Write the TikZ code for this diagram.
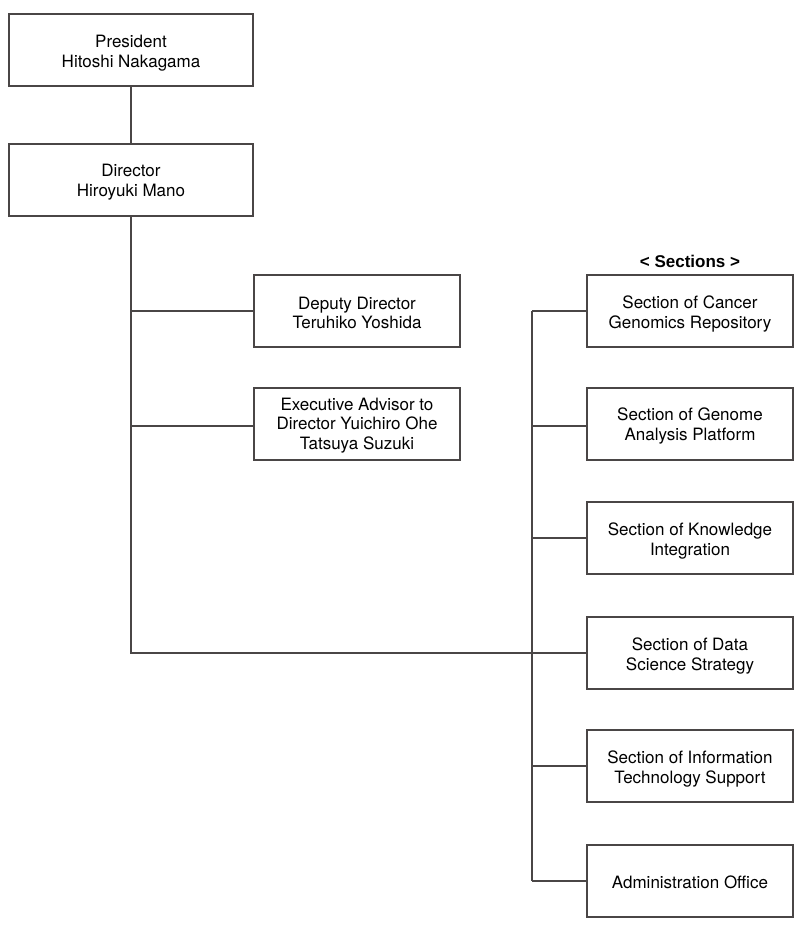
\documentclass[tikz,border=0pt]{standalone}
\usepackage{fontspec}
\setmainfont{TeX Gyre Heros}
\newfontfamily\arialfont{Liberation Sans}
\definecolor{linec}{HTML}{4A4646}
\begin{document}
\begin{tikzpicture}[x=1pt,y=-1pt,
  box/.style={draw=linec,line width=1.1pt,fill=white,inner sep=0pt,minimum height=72pt},
  widebox/.style={box,minimum width=244pt},
  unitbox/.style={box,minimum width=206pt},
  txt/.style={align=center,inner sep=0pt,font=\fontsize{17}{19.6}\selectfont},
  conn/.style={draw=linec,line width=1.1pt}]
\useasboundingbox (0,0) rectangle (800,930);
\fill[white] (0,0) rectangle (800,930);
\node[widebox] (pres) at (131,50) {};
\node[widebox] (dir) at (131,180) {};
\node[unitbox] (dep) at (357,311) {};
\node[unitbox] (exec) at (357,424) {};
\node[unitbox] (s1) at (690,311) {};
\node[unitbox] (s2) at (690,424) {};
\node[unitbox] (s3) at (690,538) {};
\node[unitbox] (s4) at (690,653) {};
\node[unitbox] (s5) at (690,766) {};
\node[unitbox] (s6) at (690,881) {};
\node[txt] (pres-t) at ([yshift=-3pt]pres.center) {President\\Hitoshi Nakagama};
\node[txt] (dir-t) at ([yshift=-2pt]dir.center) {Director\\Hiroyuki Mano};
\node[txt] (dep-t) at ([yshift=-2pt]dep.center) {Deputy Director\\Teruhiko Yoshida};
\node[txt] (exec-t) at ([yshift=-1.5pt]exec.center) {Executive Advisor to\\Director Yuichiro Ohe\\Tatsuya Suzuki};
\node[txt,font=\arialfont\bfseries\fontsize{17}{19.6}\selectfont] (sect) at (690,261) {< Sections >};
\node[txt] (s1-t) at ([yshift=-3pt]s1.center) {Section of Cancer\\Genomics Repository};
\node[txt] (s2-t) at ([yshift=-2pt]s2.center) {Section of Genome\\Analysis Platform};
\node[txt] (s3-t) at ([yshift=-3pt]s3.center) {Section of Knowledge\\Integration};
\node[txt] (s4-t) at ([yshift=-3pt]s4.center) {Section of Data\\Science Strategy};
\node[txt] (s5-t) at ([yshift=-3pt]s5.center) {Section of Information\\Technology Support};
\node[txt] (s6-t) at ([yshift=-1pt]s6.center) {Administration Office};
\coordinate (mainend) at (131,653);
\coordinate (vtop) at (532,311);
\coordinate (vbot) at (532,881);
\path[conn] (pres.south) -- (dir.north);
\path[conn] (dir.south) -- (mainend) -- (s4.west);
\path[conn] (dep.west) -- (dep.west -| dir.south);
\path[conn] ([yshift=-2pt]exec.west) -- ([yshift=-2pt]exec.west -| dir.south);
\path[conn] (vtop) -- (vbot);
\path[conn] (s1.west) -- (s1.west -| vtop);
\path[conn] ([yshift=-2pt]s2.west) -- ([yshift=-2pt]s2.west -| vtop);
\path[conn] (s3.west) -- (s3.west -| vtop);
\path[conn] (s5.west) -- (s5.west -| vtop);
\path[conn] (s6.west) -- (s6.west -| vtop);
\end{tikzpicture}
\end{document}
